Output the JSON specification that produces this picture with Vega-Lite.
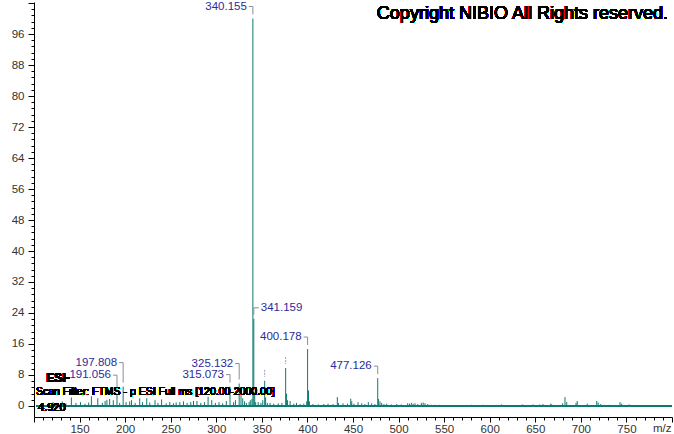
{
  "$schema": "https://vega.github.io/schema/vega-lite/v6.json",
  "width": 638,
  "height": 415,
  "autosize": "none",
  "padding": {"left": 34, "top": 2, "right": 2, "bottom": 17},
  "background": "white",
  "config": {"view": {"stroke": null}, "font": "Liberation Sans"},
  "datasets": {
    "peaks": [
      {"mz": 120.9, "intensity": 1.0}, {"mz": 125, "intensity": 0.8}, {"mz": 131, "intensity": 1.2}, {"mz": 135, "intensity": 0.7},
      {"mz": 141, "intensity": 2.2}, {"mz": 146, "intensity": 0.8}, {"mz": 151, "intensity": 1.0}, {"mz": 156, "intensity": 0.6},
      {"mz": 160, "intensity": 0.9}, {"mz": 163, "intensity": 2.5}, {"mz": 170, "intensity": 2.0}, {"mz": 175, "intensity": 0.8},
      {"mz": 178, "intensity": 1.3}, {"mz": 180, "intensity": 1.6}, {"mz": 183, "intensity": 1.8}, {"mz": 187, "intensity": 1.5},
      {"mz": 191.056, "intensity": 2.8, "label": "191.056"}, {"mz": 194, "intensity": 0.8},
      {"mz": 197.808, "intensity": 5.0, "label": "197.808"}, {"mz": 201, "intensity": 1.0}, {"mz": 205, "intensity": 1.2},
      {"mz": 207, "intensity": 1.5}, {"mz": 211, "intensity": 0.8}, {"mz": 216, "intensity": 2.0}, {"mz": 219, "intensity": 1.0},
      {"mz": 223.7, "intensity": 2.0}, {"mz": 227, "intensity": 0.9}, {"mz": 232.8, "intensity": 1.5}, {"mz": 236, "intensity": 0.8},
      {"mz": 240, "intensity": 1.7}, {"mz": 245, "intensity": 0.7}, {"mz": 249, "intensity": 1.0}, {"mz": 253, "intensity": 0.7},
      {"mz": 256, "intensity": 0.9}, {"mz": 260, "intensity": 1.0}, {"mz": 264, "intensity": 1.2}, {"mz": 268, "intensity": 0.8},
      {"mz": 272, "intensity": 1.0}, {"mz": 275, "intensity": 1.3}, {"mz": 278.8, "intensity": 1.3}, {"mz": 283, "intensity": 0.8},
      {"mz": 287, "intensity": 1.0}, {"mz": 291, "intensity": 2.4}, {"mz": 295, "intensity": 1.5}, {"mz": 299, "intensity": 0.8},
      {"mz": 303, "intensity": 1.0}, {"mz": 307, "intensity": 0.7}, {"mz": 311, "intensity": 1.3},
      {"mz": 315.073, "intensity": 5.0, "label": "315.073"}, {"mz": 319, "intensity": 1.0}, {"mz": 321, "intensity": 1.5},
      {"mz": 325.132, "intensity": 5.8, "label": "325.132"}, {"mz": 327.1, "intensity": 2.8}, {"mz": 329, "intensity": 2.0},
      {"mz": 331, "intensity": 1.2}, {"mz": 333, "intensity": 0.8}, {"mz": 336, "intensity": 1.0}, {"mz": 337.3, "intensity": 1.5},
      {"mz": 339.1, "intensity": 1.8}, {"mz": 340.155, "intensity": 100, "label": "340.155"},
      {"mz": 341.159, "intensity": 22.5, "label": "341.159"}, {"mz": 342.16, "intensity": 3.5}, {"mz": 343.2, "intensity": 1.0},
      {"mz": 346, "intensity": 1.0}, {"mz": 349, "intensity": 0.8}, {"mz": 351, "intensity": 1.5},
      {"mz": 353.1, "intensity": 6.5, "label": ""}, {"mz": 354.1, "intensity": 2.2}, {"mz": 356, "intensity": 0.8},
      {"mz": 359, "intensity": 0.8}, {"mz": 363, "intensity": 0.6}, {"mz": 368, "intensity": 0.7}, {"mz": 372, "intensity": 0.8},
      {"mz": 376.1, "intensity": 9.8, "label": ""}, {"mz": 377.1, "intensity": 3.2}, {"mz": 378.2, "intensity": 1.5},
      {"mz": 381, "intensity": 1.3}, {"mz": 385, "intensity": 0.6}, {"mz": 388, "intensity": 0.8}, {"mz": 392, "intensity": 0.5},
      {"mz": 396, "intensity": 0.6}, {"mz": 399.2, "intensity": 1.2}, {"mz": 400.178, "intensity": 14.7, "label": "400.178"},
      {"mz": 401.18, "intensity": 4.0}, {"mz": 402.2, "intensity": 1.2}, {"mz": 406, "intensity": 0.5}, {"mz": 412, "intensity": 0.4},
      {"mz": 418, "intensity": 0.5}, {"mz": 422.6, "intensity": 0.6}, {"mz": 428, "intensity": 0.5}, {"mz": 432.8, "intensity": 2.3},
      {"mz": 434, "intensity": 0.8}, {"mz": 439, "intensity": 0.7}, {"mz": 444, "intensity": 0.6}, {"mz": 447.5, "intensity": 1.9},
      {"mz": 448.6, "intensity": 1.2}, {"mz": 451, "intensity": 0.6}, {"mz": 455.5, "intensity": 1.0}, {"mz": 459.6, "intensity": 0.7},
      {"mz": 463, "intensity": 0.5}, {"mz": 466.8, "intensity": 1.0}, {"mz": 470.5, "intensity": 0.7}, {"mz": 474, "intensity": 0.5},
      {"mz": 477.126, "intensity": 7.2, "label": "477.126"}, {"mz": 478.1, "intensity": 1.8}, {"mz": 479.6, "intensity": 1.2},
      {"mz": 481.5, "intensity": 0.8}, {"mz": 484, "intensity": 0.5}, {"mz": 487, "intensity": 0.6}, {"mz": 492, "intensity": 0.4},
      {"mz": 498, "intensity": 0.5}, {"mz": 503, "intensity": 0.4}, {"mz": 510, "intensity": 0.7}, {"mz": 512, "intensity": 0.6},
      {"mz": 514, "intensity": 0.8}, {"mz": 516, "intensity": 0.6}, {"mz": 518, "intensity": 0.7}, {"mz": 521, "intensity": 0.5},
      {"mz": 525, "intensity": 0.8}, {"mz": 527, "intensity": 0.9}, {"mz": 529, "intensity": 0.7}, {"mz": 532, "intensity": 0.5},
      {"mz": 536, "intensity": 0.3}, {"mz": 540, "intensity": 0.3}, {"mz": 545, "intensity": 0.3}, {"mz": 560, "intensity": 0.2},
      {"mz": 580, "intensity": 0.3}, {"mz": 592.6, "intensity": 0.3}, {"mz": 613, "intensity": 0.4}, {"mz": 635.6, "intensity": 0.4},
      {"mz": 637, "intensity": 0.3}, {"mz": 647.5, "intensity": 0.4}, {"mz": 655, "intensity": 0.4}, {"mz": 658.5, "intensity": 0.5},
      {"mz": 667, "intensity": 0.6}, {"mz": 668, "intensity": 0.4}, {"mz": 680, "intensity": 0.7}, {"mz": 682.6, "intensity": 2.3},
      {"mz": 684.5, "intensity": 1.0}, {"mz": 694.7, "intensity": 0.8}, {"mz": 696, "intensity": 1.3}, {"mz": 707, "intensity": 0.6},
      {"mz": 717.4, "intensity": 1.3}, {"mz": 719, "intensity": 0.9}, {"mz": 721.8, "intensity": 0.5}, {"mz": 725.4, "intensity": 0.3},
      {"mz": 731, "intensity": 0.3}, {"mz": 743, "intensity": 1.0}, {"mz": 744.8, "intensity": 0.6}, {"mz": 753, "intensity": 0.4}
    ]
  },
  "data": {"name": "peaks"},
  "layer": [
    {
      "mark": {"type": "rule", "color": "#0f7a72", "strokeWidth": 1},
      "encoding": {
        "x": {
          "field": "mz", "type": "quantitative",
          "scale": {"domain": [100, 800], "nice": false, "zero": false},
          "axis": {
            "values": [100,110,120,130,140,150,160,170,180,190,200,210,220,230,240,250,260,270,280,290,300,310,320,330,340,350,360,370,380,390,400,410,420,430,440,450,460,470,480,490,500,510,520,530,540,550,560,570,580,590,600,610,620,630,640,650,660,670,680,690,700,710,720,730,740,750,760,770,780,790,800],
            "tickCount": 500,
            "format": "d",
            "labelExpr": "datum.value % 50 === 0 && datum.value >= 150 && datum.value <= 750 ? datum.label : ''",
            "tickSize": {"condition": {"test": "datum.value % 50 === 0", "value": 5}, "value": 3},
            "grid": false,
            "domainColor": "#000000", "tickColor": "#000000",
            "labelColor": "#333333", "labelFontSize": 11.5, "labelFont": "Liberation Sans",
            "labelPadding": 1, "labelOverlap": false, "labelFlush": false,
            "title": "m/z", "titleAnchor": "end", "titleAlign": "right", "titleX": 637, "titleY": 14,
            "titleBaseline": "alphabetic", "titleFontWeight": "normal", "titleFontSize": 11.5,
            "titleColor": "#333333", "titleFont": "Liberation Sans"
          }
        },
        "y": {
          "field": "intensity", "type": "quantitative",
          "scale": {"domain": [-2.84, 104.26], "nice": false, "zero": false},
          "axis": {
            "values": [0,1.6,3.2,4.8,6.4,8,9.6,11.2,12.8,14.4,16,17.6,19.2,20.8,22.4,24,25.6,27.2,28.8,30.4,32,33.6,35.2,36.8,38.4,40,41.6,43.2,44.8,46.4,48,49.6,51.2,52.8,54.4,56,57.6,59.2,60.8,62.4,64,65.6,67.2,68.8,70.4,72,73.6,75.2,76.8,78.4,80,81.6,83.2,84.8,86.4,88,89.6,91.2,92.8,94.4,96,97.6,99.2,100.8,102.4,104],
            "tickCount": 500,
            "format": "d",
            "labelExpr": "datum.value % 8 === 0 && datum.value <= 96 ? datum.label : ''",
            "tickSize": {"condition": {"test": "datum.value % 8 === 0", "value": 6}, "value": 3},
            "grid": false,
            "domainColor": "#000000", "tickColor": "#000000",
            "labelColor": "#333333", "labelFontSize": 11.5, "labelFont": "Liberation Sans",
            "labelPadding": 4, "labelOverlap": false, "labelFlush": false,
            "title": null
          }
        },
        "y2": {"datum": 0}
      }
    },
    {
      "mark": {"type": "rule", "color": "#0f7a72", "strokeWidth": 1},
      "encoding": {
        "x": {"datum": 103, "type": "quantitative"},
        "x2": {"datum": 800},
        "y": {"datum": 0, "type": "quantitative"}
      }
    },
    {
      "transform": [{"filter": "datum.label === ''"}],
      "mark": {"type": "rule", "color": "#a0a0b0", "strokeWidth": 1, "strokeDash": [2, 1], "yOffset": -11, "y2Offset": -4},
      "encoding": {
        "x": {"field": "mz", "type": "quantitative"},
        "y": {"field": "intensity", "type": "quantitative"},
        "y2": {"field": "intensity"}
      }
    },
    {
      "transform": [{"filter": "indexof(['340.155','400.178','477.126','315.073'], datum.label) >= 0"}],
      "layer": [
        {
          "mark": {"type": "text", "align": "right", "baseline": "middle", "dx": -6, "dy": -12, "fontSize": 11.5, "font": "Liberation Sans", "color": "#2b2b9c"},
          "encoding": {
            "x": {"field": "mz", "type": "quantitative"},
            "y": {"field": "intensity", "type": "quantitative"},
            "text": {"field": "label"}
          }
        },
        {
          "mark": {"type": "rule", "color": "#8c8c9c", "strokeWidth": 1, "xOffset": -4, "x2Offset": 0, "yOffset": -12},
          "encoding": {
            "x": {"field": "mz", "type": "quantitative"},
            "x2": {"field": "mz"},
            "y": {"field": "intensity", "type": "quantitative"}
          }
        },
        {
          "mark": {"type": "rule", "color": "#8c8c9c", "strokeWidth": 1, "yOffset": -12, "y2Offset": -4},
          "encoding": {
            "x": {"field": "mz", "type": "quantitative"},
            "y": {"field": "intensity", "type": "quantitative"},
            "y2": {"field": "intensity"}
          }
        }
      ]
    },
    {
      "transform": [{"filter": "indexof(['325.132','191.056'], datum.label) >= 0"}],
      "layer": [
        {
          "mark": {"type": "text", "align": "right", "baseline": "middle", "dx": -6, "dy": -20, "fontSize": 11.5, "font": "Liberation Sans", "color": "#2b2b9c"},
          "encoding": {
            "x": {"field": "mz", "type": "quantitative"},
            "y": {"field": "intensity", "type": "quantitative"},
            "text": {"field": "label"}
          }
        },
        {
          "mark": {"type": "rule", "color": "#8c8c9c", "strokeWidth": 1, "xOffset": -4, "x2Offset": 0, "yOffset": -20},
          "encoding": {
            "x": {"field": "mz", "type": "quantitative"},
            "x2": {"field": "mz"},
            "y": {"field": "intensity", "type": "quantitative"}
          }
        },
        {
          "mark": {"type": "rule", "color": "#8c8c9c", "strokeWidth": 1, "yOffset": -20, "y2Offset": -4},
          "encoding": {
            "x": {"field": "mz", "type": "quantitative"},
            "y": {"field": "intensity", "type": "quantitative"},
            "y2": {"field": "intensity"}
          }
        }
      ]
    },
    {
      "transform": [{"filter": "datum.label === '197.808'"}],
      "layer": [
        {
          "mark": {"type": "text", "align": "right", "baseline": "middle", "dx": -6, "dy": -24, "fontSize": 11.5, "font": "Liberation Sans", "color": "#2b2b9c"},
          "encoding": {
            "x": {"field": "mz", "type": "quantitative"},
            "y": {"field": "intensity", "type": "quantitative"},
            "text": {"field": "label"}
          }
        },
        {
          "mark": {"type": "rule", "color": "#8c8c9c", "strokeWidth": 1, "xOffset": -4, "x2Offset": 0, "yOffset": -24},
          "encoding": {
            "x": {"field": "mz", "type": "quantitative"},
            "x2": {"field": "mz"},
            "y": {"field": "intensity", "type": "quantitative"}
          }
        },
        {
          "mark": {"type": "rule", "color": "#8c8c9c", "strokeWidth": 1, "yOffset": -24, "y2Offset": -4},
          "encoding": {
            "x": {"field": "mz", "type": "quantitative"},
            "y": {"field": "intensity", "type": "quantitative"},
            "y2": {"field": "intensity"}
          }
        }
      ]
    },
    {
      "transform": [{"filter": "datum.label === '341.159'"}],
      "layer": [
        {
          "mark": {"type": "text", "align": "left", "baseline": "middle", "dx": 7, "dy": -11, "fontSize": 11.5, "font": "Liberation Sans", "color": "#2b2b9c"},
          "encoding": {
            "x": {"field": "mz", "type": "quantitative"},
            "y": {"field": "intensity", "type": "quantitative"},
            "text": {"field": "label"}
          }
        },
        {
          "mark": {"type": "rule", "color": "#8c8c9c", "strokeWidth": 1, "xOffset": 0, "x2Offset": 5, "yOffset": -11},
          "encoding": {
            "x": {"field": "mz", "type": "quantitative"},
            "x2": {"field": "mz"},
            "y": {"field": "intensity", "type": "quantitative"}
          }
        },
        {
          "mark": {"type": "rule", "color": "#8c8c9c", "strokeWidth": 1, "yOffset": -11, "y2Offset": -4},
          "encoding": {
            "x": {"field": "mz", "type": "quantitative"},
            "y": {"field": "intensity", "type": "quantitative"},
            "y2": {"field": "intensity"}
          }
        }
      ]
    },
    {
      "mark": {"type": "text", "align": "right", "baseline": "middle", "fontSize": 18, "font": "Liberation Sans", "color": "#000000"},
      "encoding": {
        "x": {"datum": 795.6, "type": "quantitative"},
        "y": {"datum": 101.2, "type": "quantitative"},
        "text": {"value": "Copyright NIBIO All Rights reserved."}
      }
    },
    {
      "mark": {"type": "text", "align": "left", "baseline": "middle", "fontSize": 12, "fontWeight": "bold", "font": "Liberation Sans", "color": "#000000"},
      "encoding": {
        "x": {"datum": 113.5, "type": "quantitative"},
        "y": {"datum": 7.2, "type": "quantitative"},
        "text": {"value": "ESI-"}
      }
    },
    {
      "mark": {"type": "text", "align": "left", "baseline": "middle", "fontSize": 10.5, "font": "Liberation Sans", "color": "#000000"},
      "encoding": {
        "x": {"datum": 102.2, "type": "quantitative"},
        "y": {"datum": 3.6, "type": "quantitative"},
        "text": {"value": "Scan Filter: FTMS - p ESI Full ms [120.00-2000.00]"}
      }
    },
    {
      "mark": {"type": "text", "align": "left", "baseline": "middle", "fontSize": 11, "font": "Liberation Sans", "color": "#000000"},
      "encoding": {
        "x": {"datum": 104.4, "type": "quantitative"},
        "y": {"datum": -0.52, "type": "quantitative"},
        "text": {"value": "4.920"}
      }
    }
  ]
}
